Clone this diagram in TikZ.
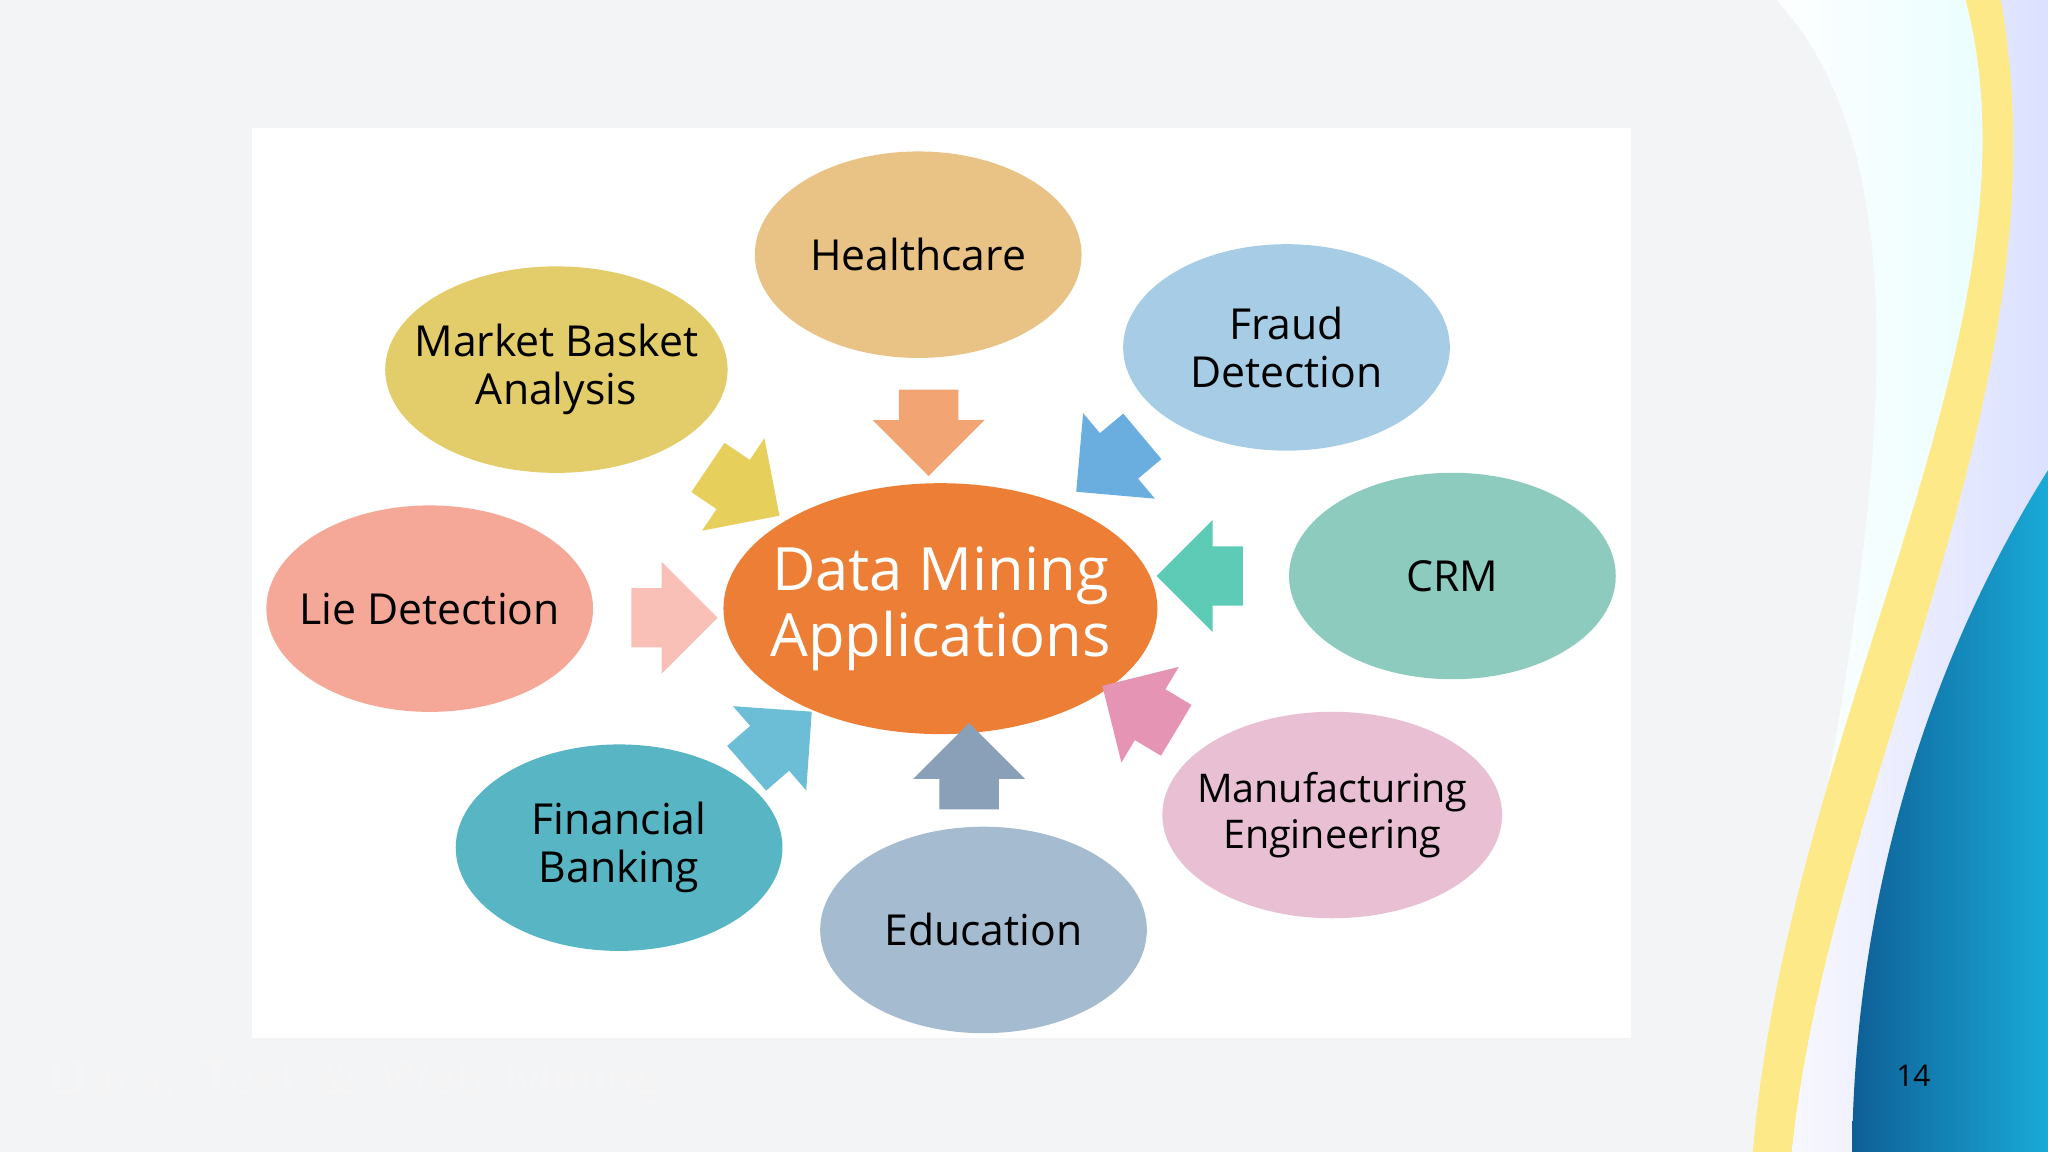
\documentclass[tikz,border=0pt]{standalone}
\usepackage{fontspec}
\setmainfont{Open Sans}
\usetikzlibrary{shapes.geometric,shapes.arrows}
\definecolor{bg}{HTML}{F3F4F6}
\begin{document}
\begin{tikzpicture}[x=0.01cm,y=0.01cm,
  bub/.style={ellipse,minimum width=2.5cm,minimum height=1.58cm,inner sep=-0.4cm,align=center,font=\fontsize{9.3}{10.5}\selectfont,text=black},
  barr/.style={single arrow,minimum height=0.66cm,minimum width=0.84cm,single arrow head extend=0.2cm,single arrow head indent=0cm,inner xsep=0pt,inner ysep=0.22cm,draw=none}]
\useasboundingbox (0,0) rectangle (1568,-882);
\fill[bg] (0,0) rectangle (1568,-882);
% right decoration
\shade[left color=white,right color=blue!8!cyan!10] (1360,0) .. controls (1500,-150) and (1420,-500) .. (1345,-882) -- (1568,-882) -- (1568,0) -- cycle;
\fill[yellow!70!orange!45] (1505,0) .. controls (1570,-250) and (1370,-550) .. (1342,-882) -- (1372,-882) .. controls (1400,-600) and (1585,-300) .. (1532,0) -- cycle;
\shade[left color=white!85!blue!20,right color=cyan!15!blue!15] (1532,0) .. controls (1585,-300) and (1400,-600) .. (1372,-882) -- (1568,-882) -- (1568,0) -- cycle;
\shade[left color={rgb,255:red,14;green,95;blue,150},right color={rgb,255:red,25;green,170;blue,215}] (1568,-360) .. controls (1480,-500) and (1420,-680) .. (1418,-882) -- (1568,-882) -- cycle;
% white panel
\fill[white] (193,-98) rectangle (1249,-795);
% bubbles
\node[bub,fill={rgb,255:red,232;green,195;blue,133}] (hc) at (703,-195) {Healthcare};
\node[bub,fill={rgb,255:red,227;green,204;blue,106},minimum width=2.62cm] (mb) at (426,-283) {Market Basket\\Analysis};
\node[bub,fill={rgb,255:red,166;green,205;blue,229}] (fd) at (985,-266) {Fraud\\Detection};
\node[bub,fill={rgb,255:red,140;green,203;blue,190}] (crm) at (1112,-441) {CRM};
\node[bub,fill={rgb,255:red,246;green,168;blue,152}] (lie) at (329,-466) {Lie Detection};
\node[bub,fill={rgb,255:red,232;green,191;blue,211},minimum width=2.6cm,font=\fontsize{8.6}{10}\selectfont] (me) at (1020,-624) {Manufacturing\\Engineering};
\node[bub,fill={rgb,255:red,165;green,187;blue,207}] (edu) at (753,-712) {Education};
\node[bub,fill={rgb,255:red,87;green,181;blue,196}] (fb) at (474,-649) {Financial\\Banking};
\node[bub,fill={rgb,255:red,236;green,127;blue,53},minimum width=3.32cm,minimum height=1.92cm,text=white,font=\fontsize{13}{14.5}\selectfont] (dm) at (720,-466) {Data Mining\\Applications};
% arrows
\node[barr,fill={rgb,255:red,242;green,164;blue,114},rotate=-90] (a1) at (711,-320) {};
\node[barr,fill={rgb,255:red,106;green,174;blue,224},rotate=220] (a2) at (858,-348) {};
\node[barr,fill={rgb,255:red,93;green,203;blue,181},rotate=180] (a3) at (930,-441) {};
\node[barr,fill={rgb,255:red,230;green,148;blue,180},rotate=149] (a4) at (882,-548) {};
\node[barr,fill={rgb,255:red,138;green,160;blue,184},rotate=90] (a5) at (742,-598) {};
\node[barr,fill={rgb,255:red,108;green,190;blue,214},rotate=41] (a6) at (588,-574) {};
\node[barr,fill={rgb,255:red,249;green,192;blue,184},rotate=0] (a7) at (505,-473) {};
\node[barr,fill={rgb,255:red,230;green,207;blue,90},rotate=-34] (a8) at (560,-370) {};
% footer
\node[anchor=west,text=white!92!gray,font=\sffamily\bfseries\fontsize{11}{12}\selectfont] (ft) at (25,-828) {Data, Text \& Web Mining};
\node[font=\fontsize{6.5}{8}\selectfont] (pg) at (1465,-824) {14};
\end{tikzpicture}
\end{document}
